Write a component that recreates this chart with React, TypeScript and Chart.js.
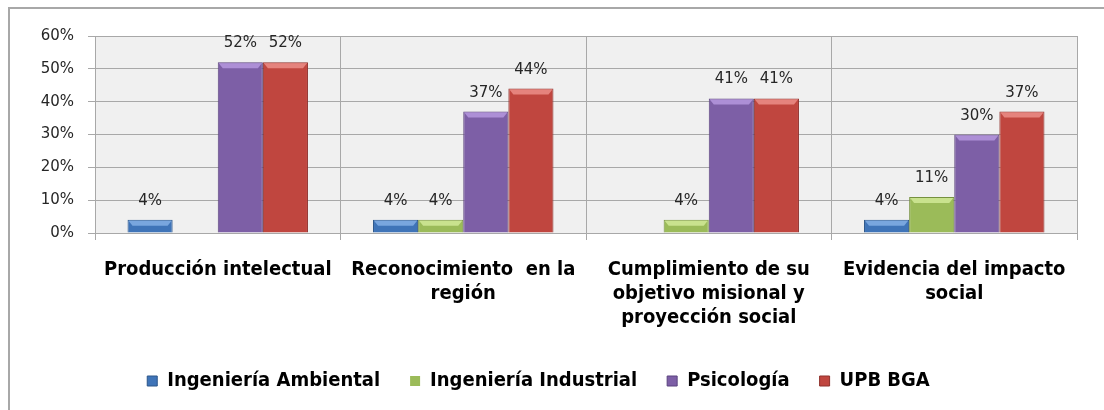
import React, { useEffect, useRef } from "react";
import { Chart, registerables } from "chart.js";

Chart.register(...registerables);

const categories: string[][] = [
  ["Producción intelectual"],
  ["Reconocimiento  en la", "región"],
  ["Cumplimiento de su", "objetivo misional y", "proyección social"],
  ["Evidencia del impacto", "social"],
];
const seriesNames = ["Ingeniería Ambiental", "Ingeniería Industrial", "Psicología", "UPB BGA"];
const ambiental = [4, 4, 0, 4];
const industrial = [0, 4, 4, 11];
const psicologia = [52, 37, 41, 30];
const upbBga = [52, 44, 41, 37];
const yMin = 0;
const yMax = 60;
const yStep = 10;

const fills = ["#3f74b8", "#9bbb59", "#7d5fa6", "#c0463f"];
const borders = ["#2c5689", "#76913f", "#5b437e", "#8f312c"];
const bevels = ["#79a6de", "#c9e28e", "#ad8fd6", "#e5837d"];

const narrowBold = '"Liberation Sans Narrow", "DejaVu Sans Condensed", "Arial Narrow", "Liberation Sans", sans-serif';
const labelFont = '"DejaVu Sans", Verdana, sans-serif';

const framePlugin = {
  id: "frame",
  beforeDraw(chart: any) {
    const { ctx, chartArea } = chart;
    ctx.save();
    ctx.fillStyle = "#ffffff";
    ctx.fillRect(0, 0, chart.width, chart.height);
    ctx.fillStyle = "#f0f0f0";
    ctx.fillRect(chartArea.left, chartArea.top, chartArea.right - chartArea.left, chartArea.bottom - chartArea.top);
    ctx.strokeStyle = "#a8a8a8";
    ctx.lineWidth = 2;
    ctx.beginPath();
    ctx.moveTo(9, chart.height);
    ctx.lineTo(9, 8);
    ctx.lineTo(chart.width, 8);
    ctx.stroke();
    ctx.restore();
  },
};

const barExtrasPlugin = {
  id: "barExtras",
  afterDatasetsDraw(chart: any) {
    const { ctx } = chart;
    ctx.save();
    chart.data.datasets.forEach((ds: any, di: number) => {
      const meta = chart.getDatasetMeta(di);
      meta.data.forEach((el: any, i: number) => {
        const v = ds.data[i];
        if (!v) return;
        const left = el.x - el.width / 2;
        const right = el.x + el.width / 2;
        const top = el.y;
        ctx.fillStyle = bevels[di];
        ctx.beginPath();
        ctx.moveTo(left + 1, top + 1);
        ctx.lineTo(right - 1, top + 1);
        ctx.lineTo(right - 5, top + 6);
        ctx.lineTo(left + 5, top + 6);
        ctx.closePath();
        ctx.fill();
        ctx.fillStyle = "#262626";
        ctx.font = "15px " + labelFont;
        ctx.textAlign = "center";
        ctx.textBaseline = "alphabetic";
        ctx.fillText(Math.round(v) + "%", el.x, top - 15);
      });
    });
    ctx.restore();
  },
};

export default function App() {
  const ref = useRef<HTMLCanvasElement | null>(null);
  useEffect(() => {
    if (!ref.current) return;
    const series = [ambiental, industrial, psicologia, upbBga];
    const chart = new Chart(ref.current, {
      type: "bar",
      data: {
        labels: categories,
        datasets: series.map((d, i) => ({
          label: seriesNames[i],
          data: d,
          backgroundColor: fills[i],
          borderColor: borders[i],
          borderWidth: (c: any) => (c.raw === 0 ? 0 : 1),
          categoryPercentage: 0.735,
          barPercentage: 1,
        })),
      },
      options: {
        responsive: false,
        animation: false,
        devicePixelRatio: 1,
        layout: { padding: { left: 0, right: 27, top: 36, bottom: 9 } },
        plugins: {
          tooltip: { enabled: false },
          legend: {
            position: "bottom",
            labels: {
              boxWidth: 10,
              boxHeight: 10,
              padding: 30,
              color: "#000",
              font: { family: narrowBold, size: 20, weight: "bold" },
            },
          },
        },
        scales: {
          x: {
            grid: { color: "#a8a8a8", lineWidth: 1, tickLength: 7, offset: true },
            border: { color: "#a8a8a8" },
            ticks: {
              color: "#000",
              padding: 18,
              maxRotation: 0,
              autoSkip: false,
              font: { family: narrowBold, size: 20, weight: "bold", lineHeight: 1.2 },
            },
            afterFit(scale: any) {
              scale.height = 108;
            },
          },
          y: {
            min: yMin,
            max: yMax,
            grid: { color: "#a8a8a8", lineWidth: 1, tickLength: 7 },
            border: { color: "#a8a8a8" },
            ticks: {
              stepSize: yStep,
              color: "#262626",
              padding: 14,
              font: { family: labelFont, size: 15 },
              callback: (v: any) => v + "%",
            },
            afterFit(scale: any) {
              scale.width = 95;
            },
          },
        },
      } as any,
      plugins: [framePlugin, barExtrasPlugin],
    });
    return () => chart.destroy();
  }, []);
  return (
    <div style={{ position: "absolute", left: 0, top: 0, width: 1104, height: 410 }}>
      <canvas ref={ref} width={1104} height={410} style={{ width: 1104, height: 410, display: "block" }} />
    </div>
  );
}
